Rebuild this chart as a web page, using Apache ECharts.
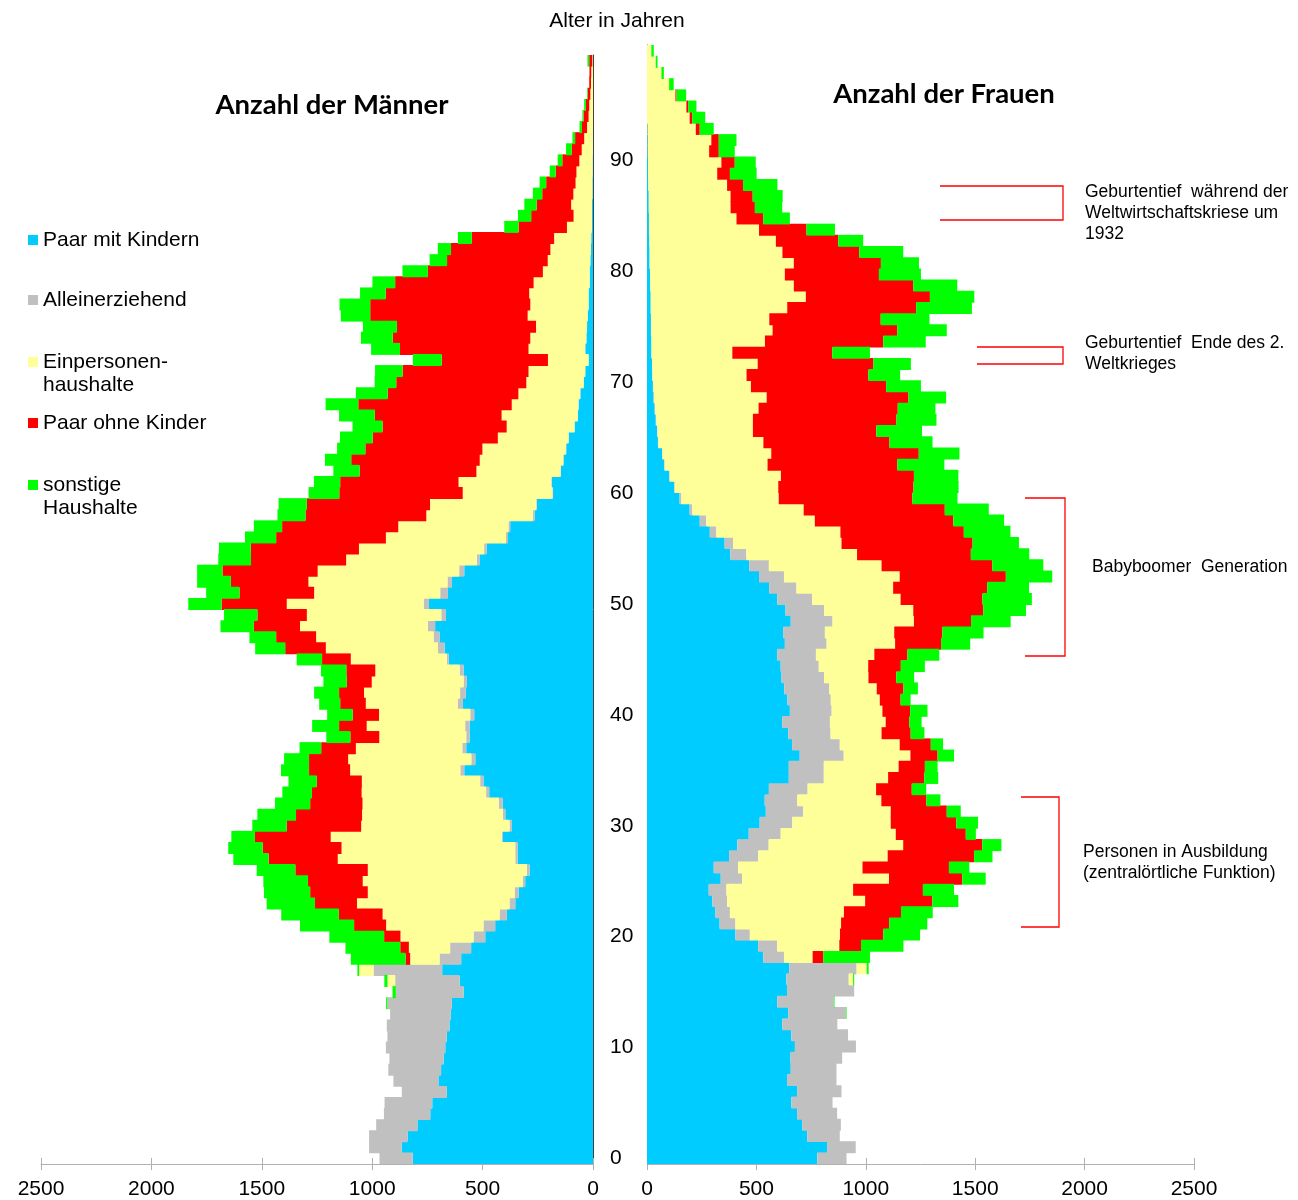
<!DOCTYPE html>
<html>
<head>
<meta charset="utf-8">
<script src="https://cdn.jsdelivr.net/npm/echarts@6/dist/echarts.min.js"></script>
<style>
  html, body { margin: 0; padding: 0; background: #fff; }
  #chart { width: 1298px; height: 1200px; }
</style>
</head>
<body>
<div id="chart"></div>
<script>
// Alter 0..99
var ages = [];
for (var i = 0; i < 100; i++) ages.push(String(i));

var seriesNames = ["Paar mit Kindern", "Alleinerziehend", "Einpersonen-haushalte", "Paar ohne Kinder", "sonstige Haushalte"];
var legendLines = [["Paar mit Kindern"], ["Alleinerziehend"], ["Einpersonen-", "haushalte"], ["Paar ohne Kinder"], ["sonstige", "Haushalte"]];
var colors = ["#00ccff", "#c0c0c0", "#ffff99", "#ff0000", "#00ff00"];

// Männer
var menKinder = [816,866,840,795,737,728,662,700,688,677,
  669,662,650,644,639,586,604,683,597,552,
  488,443,390,352,337,307,287,341,341,408,
  367,397,409,470,496,583,533,574,559,559,
  538,589,576,571,586,653,672,695,715,666,
  743,657,639,583,514,481,385,375,264,254,
  181,186,145,133,121,110,83,68,65,57,
  42,35,20,35,30,27,24,20,20,15,
  15,12,9,8,5,5,5,3,3,2,
  2,1,1,0,0,0,0,0,0,0];
var menAllein = [151,148,174,187,210,216,204,204,239,245,
  269,269,284,275,292,307,292,311,98,95,
  53,53,33,26,18,11,12,11,11,5,
  11,11,18,14,15,18,18,18,15,20,
  18,24,26,15,18,9,30,27,33,21,
  24,35,20,23,12,12,9,8,9,3,
  3,3,2,2,2,1,1,1,1,1,
  0,0,0,0,0,0,0,0,0,0,
  0,0,0,0,0,0,0,0,0,0,
  0,0,0,0,0,0,0,0,0,0];
var menEinp = [0,0,0,0,0,0,0,0,0,0,
  0,0,0,0,0,0,35,65,133,187,
  331,441,530,691,665,725,721,804,787,775,
  672,638,617,564,536,499,558,482,394,446,
  413,416,435,416,382,435,508,532,579,609,
  620,571,630,641,592,567,544,499,482,481,
  406,420,381,378,378,320,307,345,302,280,
  260,257,184,257,254,231,272,264,269,254,
  212,193,184,168,113,83,94,86,76,73,
  60,50,39,27,20,17,12,9,8,3];
var menPaar = [0,0,0,0,0,0,0,0,0,0,
  0,0,0,0,0,0,0,0,21,39,
  74,145,198,190,261,248,328,313,357,343,
  337,299,237,225,204,186,177,157,131,125,
  119,116,113,113,131,130,184,181,209,224,
  295,338,351,431,431,490,497,526,547,558,
  559,536,529,582,530,567,562,574,695,592,
  589,570,481,582,623,630,713,725,650,627,
  521,456,450,373,219,192,156,141,133,94,
  77,45,41,23,23,15,12,8,8,14];
var menSonst = [0,0,0,0,0,0,0,0,0,0,
  0,0,0,0,6,15,14,8,248,248,
  248,245,261,219,209,202,175,160,156,107,
  156,175,159,134,128,127,113,98,109,122,
  116,95,113,106,115,115,136,121,151,151,
  151,151,153,115,148,144,141,128,127,128,
  139,119,119,119,128,148,136,162,148,144,
  98,125,131,131,144,154,133,139,116,103,
  115,79,60,63,65,60,56,42,30,27,
  21,26,12,11,5,8,3,0,0,8];

// Frauen
var womenKinder = [778,823,732,709,686,660,686,640,657,656,
  676,660,618,645,595,640,637,650,531,508,
  404,332,313,299,282,337,305,375,413,465,
  515,543,538,557,648,648,698,663,645,618,
  653,642,627,615,611,595,630,622,657,633,
  595,558,512,467,381,355,287,241,195,149,
  124,101,78,69,50,46,40,35,30,27,
  24,23,20,20,18,18,17,17,15,14,
  12,12,11,9,9,8,8,6,5,5,
  3,3,2,0,0,0,0,0,0,0];
var womenAllein = [134,131,149,177,183,188,203,226,209,236,
  279,259,252,264,259,307,285,308,95,87,
  66,72,66,67,81,98,111,133,143,146,
  149,171,149,177,160,160,201,218,194,218,
  191,198,206,194,174,177,191,191,191,177,
  160,125,114,90,73,38,30,30,12,8,
  3,3,3,2,2,2,2,2,2,1,
  1,1,1,1,1,1,0,0,0,0,
  0,0,0,0,0,0,0,0,0,0,
  0,0,0,0,0,0,0,0,0,0];
var womenEinp = [0,0,0,0,0,0,0,0,0,0,
  0,0,0,0,0,0,20,46,131,284,
  412,483,521,631,579,671,569,592,615,526,
  450,400,384,313,294,342,305,274,233,255,
  232,224,217,203,226,267,313,317,372,407,
  404,442,529,515,506,496,567,496,509,445,
  473,508,470,497,480,436,442,473,515,447,
  430,482,369,518,555,540,624,709,656,616,
  659,607,578,503,400,374,374,360,316,335,
  281,291,221,195,180,130,101,66,40,20];
var womenPaar = [0,0,0,0,0,0,0,0,0,0,
  0,0,0,0,0,0,0,0,49,99,
  198,220,261,307,319,335,395,395,361,320,
  300,256,206,163,165,120,124,142,133,108,
  127,95,122,127,149,151,210,220,261,320,
  374,430,485,506,520,599,564,633,645,611,
  618,608,593,674,576,564,656,636,648,618,
  557,529,457,541,570,509,589,567,546,430,
  398,351,285,217,122,111,101,73,58,61,
  44,34,18,12,8,5,0,0,0,0];
var womenSonst = [0,0,0,0,0,0,0,0,0,0,
  0,0,0,3,3,0,5,9,213,194,
  168,174,145,119,142,107,93,84,88,46,
  99,64,64,66,64,58,75,56,63,56,
  79,46,66,82,110,146,133,188,181,195,
  226,191,212,233,267,212,213,232,201,206,
  206,203,215,186,197,209,183,172,172,159,
  145,171,172,194,226,223,255,203,201,192,
  174,201,114,130,122,125,137,157,122,96,
  73,81,64,59,38,44,21,11,8,11];

var xTicks = { min: 0, max: 2500, interval: 500 };

var menData = [menKinder, menAllein, menEinp, menPaar, menSonst];
var womenData = [womenKinder, womenAllein, womenEinp, womenPaar, womenSonst];

var FONT = "'Liberation Sans', Arial, sans-serif";

function makeSeries(list, idx, stack) {
  return list.map(function (d, k) {
    return {
      name: seriesNames[k],
      type: "bar",
      stack: stack,
      xAxisIndex: idx,
      yAxisIndex: idx,
      // etwas breiter als das Band, damit keine weissen Fugen bleiben
      barWidth: 12,
      itemStyle: { color: colors[k] },
      emphasis: { disabled: true },
      data: d
    };
  });
}

function valueAxis(grid, inverse, inside) {
  return {
    type: "value",
    gridIndex: grid,
    position: "bottom",
    offset: 0,
    min: xTicks.min,
    max: xTicks.max,
    interval: xTicks.interval,
    inverse: inverse,
    splitLine: { show: false },
    axisLine: { show: !inside, lineStyle: { color: "#b0b0b0", width: 1 } },
    axisTick: { show: true, inside: inside, length: 6, lineStyle: { color: "#b0b0b0" } },
    axisLabel: {
      show: !inside,
      color: "#000",
      fontFamily: FONT,
      fontSize: 21,
      margin: 15,
      formatter: function (v) { return String(v); }
    }
  };
}

// Legende und Anmerkungen
var graphics = [];
var legendY = [240, 300, 362, 423, 485];
legendLines.forEach(function (lines, k) {
  graphics.push({
    type: "rect",
    shape: { x: 28, y: legendY[k] - 5, width: 10, height: 10 },
    style: { fill: colors[k] }
  });
  lines.forEach(function (t, j) {
    graphics.push({
      type: "text",
      x: 43, y: legendY[k] + j * 23,
      style: { text: t, font: "21px " + FONT, fill: "#000", textVerticalAlign: "middle" }
    });
  });
});

graphics.push(
  { type: "text", x: 617, y: 21, style: { text: "Alter in Jahren", font: "21px " + FONT, fill: "#000", textAlign: "center", textVerticalAlign: "middle" } },
  { type: "text", x: 332, y: 105, style: { text: "Anzahl der Männer", font: "bold 27.5px Lato, sans-serif", fill: "#000", textAlign: "center", textVerticalAlign: "middle" } },
  { type: "text", x: 944, y: 94, style: { text: "Anzahl der Frauen", font: "bold 27.5px Lato, sans-serif", fill: "#000", textAlign: "center", textVerticalAlign: "middle" } }
);

var notes = [
  { x1: 940, x2: 1063, y1: 186, y2: 220, tx: 1085, ty: 192, lines: ["Geburtentief  während der", "Weltwirtschaftskriese um", "1932"] },
  { x1: 977, x2: 1063, y1: 347, y2: 364, tx: 1085, ty: 343, lines: ["Geburtentief  Ende des 2.", "Weltkrieges"] },
  { x1: 1025, x2: 1065, y1: 498, y2: 656, tx: 1092, ty: 567, lines: ["Babyboomer  Generation"] },
  { x1: 1021, x2: 1059, y1: 797, y2: 927, tx: 1083, ty: 852, lines: ["Personen in Ausbildung", "(zentralörtliche Funktion)"] }
];
notes.forEach(function (n) {
  graphics.push({
    type: "polyline",
    shape: { points: [[n.x1, n.y1], [n.x2, n.y1], [n.x2, n.y2], [n.x1, n.y2]] },
    style: { stroke: "#ff0000", lineWidth: 1.3, fill: null }
  });
  n.lines.forEach(function (t, j) {
    graphics.push({
      type: "text",
      x: n.tx, y: n.ty + j * 21,
      style: { text: t, font: "17.5px " + FONT, fill: "#000", textVerticalAlign: "middle" }
    });
  });
});

var chart = echarts.init(document.getElementById("chart"));
chart.setOption({
  animation: false,
  backgroundColor: "#fff",
  grid: [
    { left: 41, top: 55, width: 552, height: 1111 },
    { left: 647, top: 45, width: 547, height: 1121 }
  ],
  xAxis: [
    valueAxis(0, true, false),
    valueAxis(1, false, false),
    valueAxis(0, true, true),
    valueAxis(1, false, true)
  ],
  yAxis: [
    {
      type: "category",
      gridIndex: 0,
      position: "right",
      data: ages,
      axisLine: { show: true, lineStyle: { color: "#404040", width: 1 } },
      axisTick: { show: false },
      axisLabel: { interval: 9, color: "#000", fontFamily: FONT, fontSize: 21, margin: 17, padding: [6, 0, 0, 0] }
    },
    {
      type: "category",
      gridIndex: 1,
      position: "left",
      data: ages,
      axisLine: { show: true, lineStyle: { color: "#404040", width: 1 } },
      axisTick: { show: false },
      axisLabel: { show: false }
    }
  ],
  series: makeSeries(menData, 0, "m").concat(makeSeries(womenData, 1, "w")),
  graphic: graphics
});
</script>
</body>
</html>
